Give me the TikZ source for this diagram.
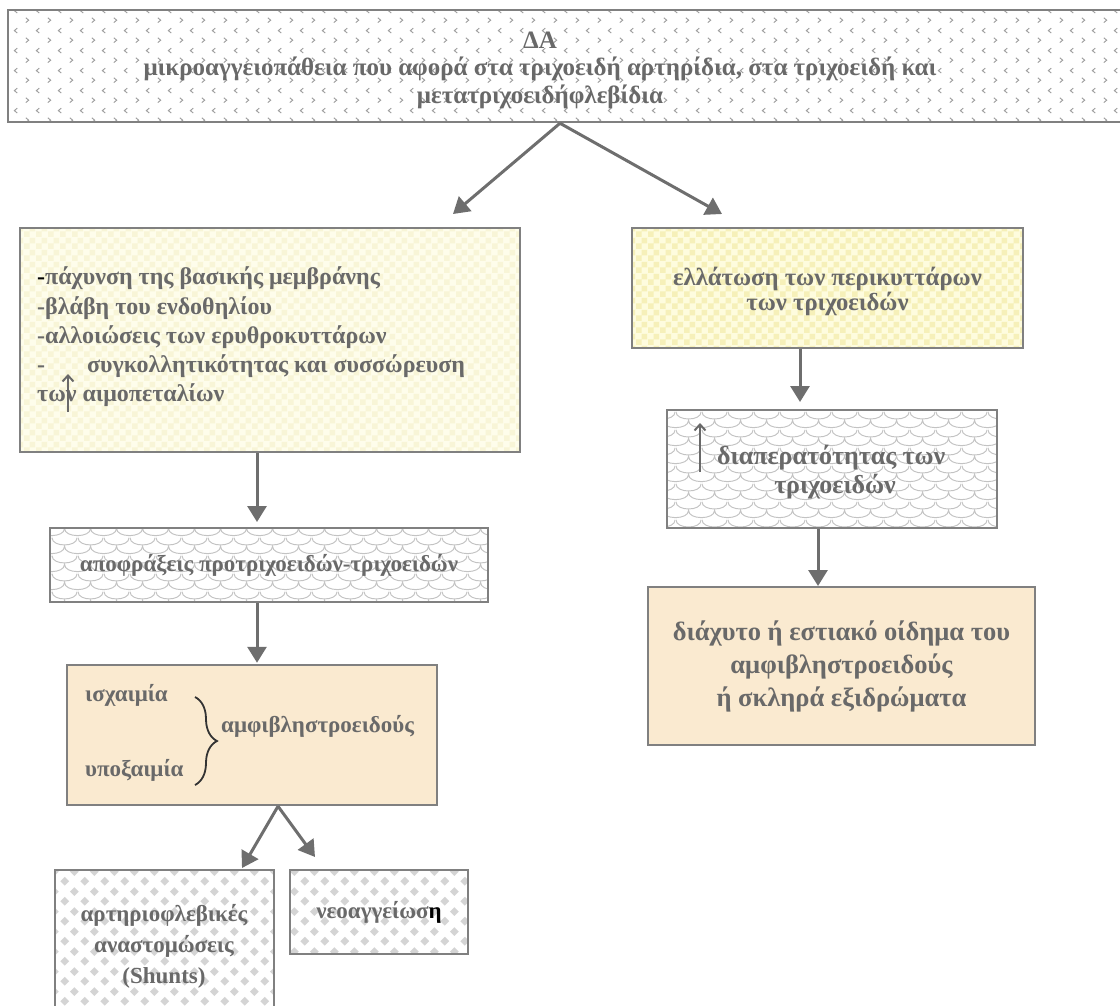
\documentclass[tikz,border=0pt]{standalone}
\usepackage{fontspec}
\setmainfont{Liberation Serif}
\usetikzlibrary{arrows.meta,patterns,decorations.pathreplacing}

\definecolor{bordc}{RGB}{128,128,128}
\definecolor{txtc}{RGB}{105,105,105}
\definecolor{arrc}{RGB}{110,110,110}
\definecolor{yelA}{RGB}{254,253,235}
\definecolor{yelAp}{RGB}{248,245,215}
\definecolor{yelB}{RGB}{254,252,222}
\definecolor{yelBp}{RGB}{246,240,185}
\definecolor{peach}{RGB}{250,234,208}

\pgfdeclarepatternformonly{chevr}{\pgfqpoint{0pt}{0pt}}{\pgfqpoint{22pt}{20pt}}{\pgfqpoint{22pt}{20pt}}{%
  \pgfsetlinewidth{1pt}
  \pgfpathmoveto{\pgfqpoint{4pt}{7.5pt}}\pgfpathlineto{\pgfqpoint{7pt}{5pt}}\pgfpathlineto{\pgfqpoint{4pt}{2.5pt}}
  \pgfpathmoveto{\pgfqpoint{18pt}{17.5pt}}\pgfpathlineto{\pgfqpoint{15pt}{15pt}}\pgfpathlineto{\pgfqpoint{18pt}{12.5pt}}
  \pgfusepath{stroke}}

\pgfdeclarepatternformonly{scales}{\pgfqpoint{0pt}{0pt}}{\pgfqpoint{26pt}{18pt}}{\pgfqpoint{26pt}{18pt}}{%
  \pgfsetlinewidth{1pt}
  \pgfpathmoveto{\pgfqpoint{0pt}{18pt}}
  \pgfpathcurveto{\pgfqpoint{0pt}{8pt}}{\pgfqpoint{26pt}{8pt}}{\pgfqpoint{26pt}{18pt}}
  \pgfpathmoveto{\pgfqpoint{-13pt}{9pt}}
  \pgfpathcurveto{\pgfqpoint{-13pt}{-1pt}}{\pgfqpoint{13pt}{-1pt}}{\pgfqpoint{13pt}{9pt}}
  \pgfpathcurveto{\pgfqpoint{13pt}{-1pt}}{\pgfqpoint{39pt}{-1pt}}{\pgfqpoint{39pt}{9pt}}
  \pgfpathmoveto{\pgfqpoint{0pt}{0pt}}
  \pgfpathcurveto{\pgfqpoint{0pt}{-10pt}}{\pgfqpoint{26pt}{-10pt}}{\pgfqpoint{26pt}{0pt}}
  \pgfusepath{stroke}}

\pgfdeclarepatternformonly{diam}{\pgfqpoint{0pt}{0pt}}{\pgfqpoint{20pt}{20pt}}{\pgfqpoint{20pt}{20pt}}{%
  \pgfpathmoveto{\pgfqpoint{5pt}{0.4pt}}\pgfpathlineto{\pgfqpoint{9.6pt}{5pt}}\pgfpathlineto{\pgfqpoint{5pt}{9.6pt}}\pgfpathlineto{\pgfqpoint{0.4pt}{5pt}}\pgfpathclose
  \pgfpathmoveto{\pgfqpoint{15pt}{10.4pt}}\pgfpathlineto{\pgfqpoint{19.6pt}{15pt}}\pgfpathlineto{\pgfqpoint{15pt}{19.6pt}}\pgfpathlineto{\pgfqpoint{10.4pt}{15pt}}\pgfpathclose
  \pgfusepath{fill}}

\pgfdeclarepatternformonly{chk}{\pgfqpoint{0pt}{0pt}}{\pgfqpoint{12pt}{12pt}}{\pgfqpoint{12pt}{12pt}}{%
  \pgfpathrectangle{\pgfqpoint{0pt}{0pt}}{\pgfqpoint{6pt}{6pt}}
  \pgfpathrectangle{\pgfqpoint{6pt}{6pt}}{\pgfqpoint{6pt}{6pt}}
  \pgfusepath{fill}}

\tikzset{
  box/.style={draw=bordc, line width=2.5pt, inner sep=0pt, align=center, text=txtc,
    font=\bfseries\fontsize{24}{29}\selectfont},
  chevbox/.style={box, preaction={fill=white}, pattern=chevr, pattern color={rgb,255:red,160;green,160;blue,160}},
  scalebox/.style={box, preaction={fill=white}, pattern=scales, pattern color={rgb,255:red,195;green,195;blue,195}},
  diambox/.style={box, preaction={fill=white}, pattern=diam, pattern color={rgb,255:red,212;green,212;blue,212}},
  yelboxA/.style={box, preaction={fill=yelA}, pattern=chk, pattern color=yelAp},
  yelboxB/.style={box, preaction={fill=yelB}, pattern=chk, pattern color=yelBp},
  peachbox/.style={box, fill=peach},
  txt/.style={inner sep=0pt, text=txtc, font=\bfseries\fontsize{23}{29}\selectfont},
  arr/.style={draw=arrc, line width=3pt, -{Triangle[length=16pt,width=19pt]}},
  uparr/.style={draw=txtc, line width=2pt, -{Straight Barb[length=6pt,width=11pt]}},
}

\begin{document}
\begin{tikzpicture}[x=1pt,y=-1pt]
\useasboundingbox (0,0) rectangle (1120,1005);

% boxes
\node[chevbox, minimum width=1118pt, minimum height=112pt] (top) at (567,66) {};
\node[txt, align=center, font=\bfseries\fontsize{25}{27.5}\selectfont] (topt) at (540,70)
  {ΔΑ\\μικροαγγειοπάθεια που αφορά στα τριχοειδή αρτηρίδια, στα τριχοειδή και\\μετατριχοειδήφλεβίδια};

\node[yelboxA, minimum width=500pt, minimum height=224pt] (l1) at (270,340) {};
\node[txt, align=left, anchor=west, font=\bfseries\fontsize{24}{29.3}\selectfont] (l1t) at (37,337)
  {{\color{black}-}πάχυνση της βασικής μεμβράνης\\
   -βλάβη του ενδοθηλίου\\
   -αλλοιώσεις των ερυθροκυττάρων\\
   -\hspace{42pt}συγκολλητικότητας και συσσώρευση\\
   των αιμοπεταλίων};

\node[yelboxB, minimum width=391pt, minimum height=120pt] (r1) at (827.5,288) {};
\node[txt, align=center, font=\bfseries\fontsize{24.7}{25}\selectfont] (r1t) at (827.5,291)
  {ελλάτωση των περικυττάρων\\των τριχοειδών};

\node[scalebox, minimum width=330pt, minimum height=118pt] (r2) at (832,469) {};
\node[txt, anchor=west, font=\bfseries\fontsize{26}{29}\selectfont] (r2a) at (717,458) {διαπερατότητας των};
\node[txt, font=\bfseries\fontsize{26}{29}\selectfont] (r2b) at (835,487) {τριχοειδών};

\node[peachbox, minimum width=387pt, minimum height=158pt, font=\bfseries\fontsize{26.5}{33}\selectfont] (r3) at (841.5,666)
  {διάχυτο ή εστιακό οίδημα του\\αμφιβληστροειδούς\\ή σκληρά εξιδρώματα};

\node[scalebox, minimum width=438pt, minimum height=74pt, font=\bfseries\fontsize{23}{29}\selectfont] (a1) at (269,565)
  {αποφράξεις προτριχοειδών-τριχοειδών};

\node[peachbox, minimum width=370pt, minimum height=140pt] (a2) at (252,735) {};
\node[txt, anchor=west] (isch) at (85,695) {ισχαιμία};
\node[txt, anchor=west] (ypox) at (85,770) {υποξαιμία};
\node[txt, anchor=west] (amfi) at (221,726) {αμφιβληστροειδούς};

\node[diambox, minimum width=219pt, minimum height=145pt] (sh) at (164.5,942.5) {};
\node[txt, align=center, font=\bfseries\fontsize{23}{31}\selectfont] (sht) at (164,946)
  {αρτηριοφλεβικές\\αναστομώσεις\\(Shunts)};
\node[diambox, minimum width=178pt, minimum height=84pt, font=\bfseries\fontsize{23}{29}\selectfont] (neo) at (379,912)
  {νεοαγγείωσ{\color{black}η}};

% brace
\draw[decorate, decoration={brace, amplitude=22pt}, line width=1.8pt, black!80]
  (195,697) -- (195,785);

% up arrows inside texts
\draw[uparr] (68,412) -- (68,374);
\draw[uparr] (700,472) -- (700,423);

% connectors
\coordinate (e1) at (453,214);
\coordinate (e2) at (722,214);
\coordinate (e3) at (257,522);
\coordinate (e4) at (800,402);
\coordinate (e5) at (818,586);
\coordinate (e6) at (242,868);
\coordinate (e7) at (315,857);

\draw[arr] ([xshift=-7pt]top.south) -- (e1);
\draw[arr] ([xshift=-7pt]top.south) -- (e2);
\draw[arr] ([xshift=-13pt]l1.south) -- (e3);
\draw[arr] (a1.south -| e3) -- ([yshift=1pt]a2.north -| e3);
\draw[arr] (r1.south -| e4) -- (e4);
\draw[arr] (r2.south -| e5) -- (e5);
\draw[arr] ([xshift=26pt]a2.south) -- (e6);
\draw[arr] ([xshift=26pt]a2.south) -- (e7);
\end{tikzpicture}
\end{document}
